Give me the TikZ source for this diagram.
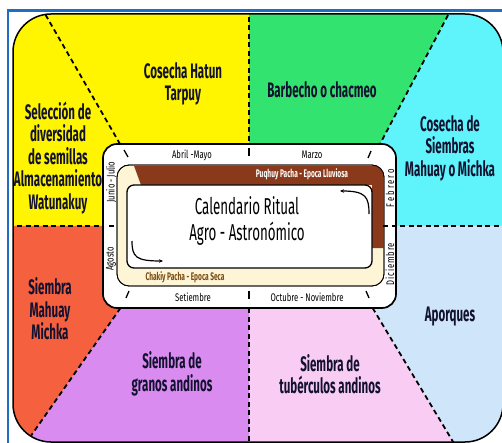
\documentclass[tikz,border=0pt]{standalone}
\usepackage{fontspec}
\usetikzlibrary{arrows.meta}
\setmainfont{Fira Sans}
\newfontfamily\regfont[FakeStretch=0.55]{Fira Sans}
\newfontfamily\centfont[FakeStretch=0.58]{Fira Sans}
\newfontfamily\ringfont[FakeStretch=0.7]{Fira Sans}
\newfontfamily\bandfont[FakeStretch=0.6]{Fira Sans}
\definecolor{frameblue}{HTML}{1E6FC4}
\definecolor{yel}{HTML}{FFF500}
\definecolor{grn}{HTML}{33E36F}
\definecolor{cyn}{HTML}{5FF4FC}
\definecolor{lblue}{HTML}{CFE6FA}
\definecolor{pnk}{HTML}{F9CCF3}
\definecolor{prp}{HTML}{D98BEF}
\definecolor{org}{HTML}{F5603F}
\definecolor{cream}{HTML}{FDF5D6}
\definecolor{brownband}{HTML}{8A3A1A}
\definecolor{chakiy}{HTML}{7A4A12}
\definecolor{txt}{HTML}{121230}
\begin{document}
\begin{tikzpicture}[x=1pt,y=-1pt,
  dashline/.style={line width=1.8pt, dash pattern=on 5pt off 3.5pt},
  tick/.style={line width=1.3pt},
  regiontext/.style={align=center, text=txt, inner sep=0,
    font=\regfont\bfseries\fontsize{21}{22.5}\selectfont},
  ringtext/.style={inner sep=0, font=\ringfont\fontsize{11}{12}\selectfont},
  bandtext/.style={inner sep=0, font=\bandfont\bfseries\fontsize{11}{12}\selectfont},
  cycarrow/.style={line width=1.2pt, -{Stealth[length=4pt,width=3.5pt]}}
]
\useasboundingbox (0,0) rectangle (502,443);
\fill[white] (0,0) rectangle (502,443);
% blue frame
\draw[frameblue, line width=2.6pt] (8,443) -- (8,10.5) -- (502,10.5);

% coloured sectors clipped to the rounded outer shape
\begin{scope}
\clip[rounded corners=38] (13,14) rectangle (503,442);
\fill[yel] (0,0) rectangle (249,226);
\fill[grn] (249,0) -- (456,0) -- (337,226) -- (249,226) -- cycle;
\fill[cyn] (456,0) -- (510,0) -- (510,226) -- (337,226) -- cycle;
\fill[lblue] (323,226) -- (510,226) -- (510,460) -- (464,460) -- cycle;
\fill[pnk] (249,226) -- (323,226) -- (464,460) -- (249,460) -- cycle;
\fill[prp] (178,226) -- (249,226) -- (249,460) -- (14,460) -- cycle;
\fill[org] (0,226) -- (178,226) -- (14,460) -- (0,460) -- cycle;
% dashed dividers
\coordinate (d1a) at (37,0);   \coordinate (d1b) at (120,144);
\coordinate (vta) at (249,0);  \coordinate (vtb) at (249,144);
\coordinate (d2a) at (456,0);  \coordinate (d2b) at (380,144);
\coordinate (hla) at (0,226);  \coordinate (hlb) at (103,226);
\coordinate (d3a) at (120.5,308); \coordinate (d3b) at (14,460);
\coordinate (vba) at (249,308); \coordinate (vbb) at (249,460);
\coordinate (d4a) at (372.6,308); \coordinate (d4b) at (464,460);
\draw[dashline] (d1a) -- (d1b);
\draw[dashline] (vta) -- (vtb);
\draw[dashline] (d2a) -- (d2b);
\draw[dashline] (hla) -- (hlb);
\draw[dashline] (d3a) -- (d3b);
\draw[dashline] (vba) -- (vbb);
\draw[dashline] (d4a) -- (d4b);
\end{scope}
\draw[line width=1.5pt, rounded corners=38] (13,14) rectangle (503,442);

% central calendar box
\draw[fill=white, line width=1.7pt, rounded corners=14] (103,144) rectangle (396,308);
\draw[fill=cream, line width=0.8pt, rounded corners=12] (117,165) rectangle (384,286);
\fill[brownband] (134,165.8) -- (373,165.8) .. controls (380,165.8) and (383.6,169.5) .. (383.6,176.5)
  -- (383.6,248) -- (372,248) -- (372,185) -- (141,185) -- cycle;
\draw[line width=0.8pt, rounded corners=12] (117,165) rectangle (384,286);
\draw[fill=white, line width=1.3pt, rounded corners=7] (127,185) rectangle (372,268);

% ticks in the ring
\coordinate (k1a) at (124,150); \coordinate (k1b) at (128,157);
\coordinate (k2a) at (249,148); \coordinate (k2b) at (249,156);
\coordinate (k3a) at (371,151); \coordinate (k3b) at (368,158);
\coordinate (k4a) at (129,291); \coordinate (k4b) at (126,298);
\coordinate (k5a) at (249,291); \coordinate (k5b) at (249,299);
\coordinate (k6a) at (366,291); \coordinate (k6b) at (369,298);
\coordinate (k7a) at (109,226); \coordinate (k7b) at (114,226);
\coordinate (hra) at (383,226); \coordinate (hrb) at (502,226);
\foreach \a/\b in {k1a/k1b,k2a/k2b,k3a/k3b,k4a/k4b,k5a/k5b,k6a/k6b,k7a/k7b}
  \draw[tick] (\a) -- (\b);
\draw[dashline] (hra) -- (hrb);

% cycle arrows
\coordinate (ar1a) at (369,214); \coordinate (ar1b) at (340,191);
\coordinate (ar2a) at (132,241); \coordinate (ar2b) at (163,261);
\draw[cycarrow] (ar1a) .. controls (369,197) and (366,191) .. (ar1b);
\draw[cycarrow] (ar2a) .. controls (132,257) and (136,261) .. (ar2b);

% centre title
\node[align=center, inner sep=0, font=\centfont\fontsize{23}{26}\selectfont] (title) at (247,221)
  {Calendario Ritual\\Agro - Astronómico};

% band labels
\node[bandtext, text=white] (lluv) at (302,174) {Puqhuy Pacha - Epoca Lluviosa};
\node[bandtext, text=chakiy] (seca) at (185,277) {Chakiy Pacha - Epoca Seca};

% month labels
\node[ringtext] (abr) at (192,155) {Abril -Mayo};
\node[ringtext] (mar) at (312,155) {Marzo};
\node[ringtext] (sep) at (193,297) {Setiembre};
\node[ringtext] (oct) at (307,297) {Octubre - Noviembre};
\node[ringtext, rotate=90] (jun) at (111,182) {Junio - Julio};
\node[ringtext, rotate=90] (ago) at (111,259) {Agosto};
\node[ringtext, rotate=90] (feb) at (390,188) {\addfontfeature{LetterSpace=18}Febrero};
\node[ringtext, rotate=90] (dic) at (390,264) {\addfontfeature{LetterSpace=8}Diciembre};

% sector texts
\node[regiontext] (hatun) at (183,84) {Cosecha Hatun\\Tarpuy};
\node[regiontext] (selec) at (58,158) {Selección de\\diversidad\\de semillas\\Almacenamiento\\Watunakuy};
\node[regiontext] (barb) at (322,90) {Barbecho o chacmeo};
\node[regiontext] (cosm) at (450,148) {Cosecha de\\Siembras\\Mahuay o Michka};
\node[regiontext] (smah) at (50,309) {Siembra\\Mahuay\\Michka};
\node[regiontext] (gran) at (172,374) {Siembra de\\granos andinos};
\node[regiontext] (tube) at (330,374) {Siembra de\\tubérculos andinos};
\node[regiontext] (apor) at (450,317) {Aporques};
\end{tikzpicture}
\end{document}
